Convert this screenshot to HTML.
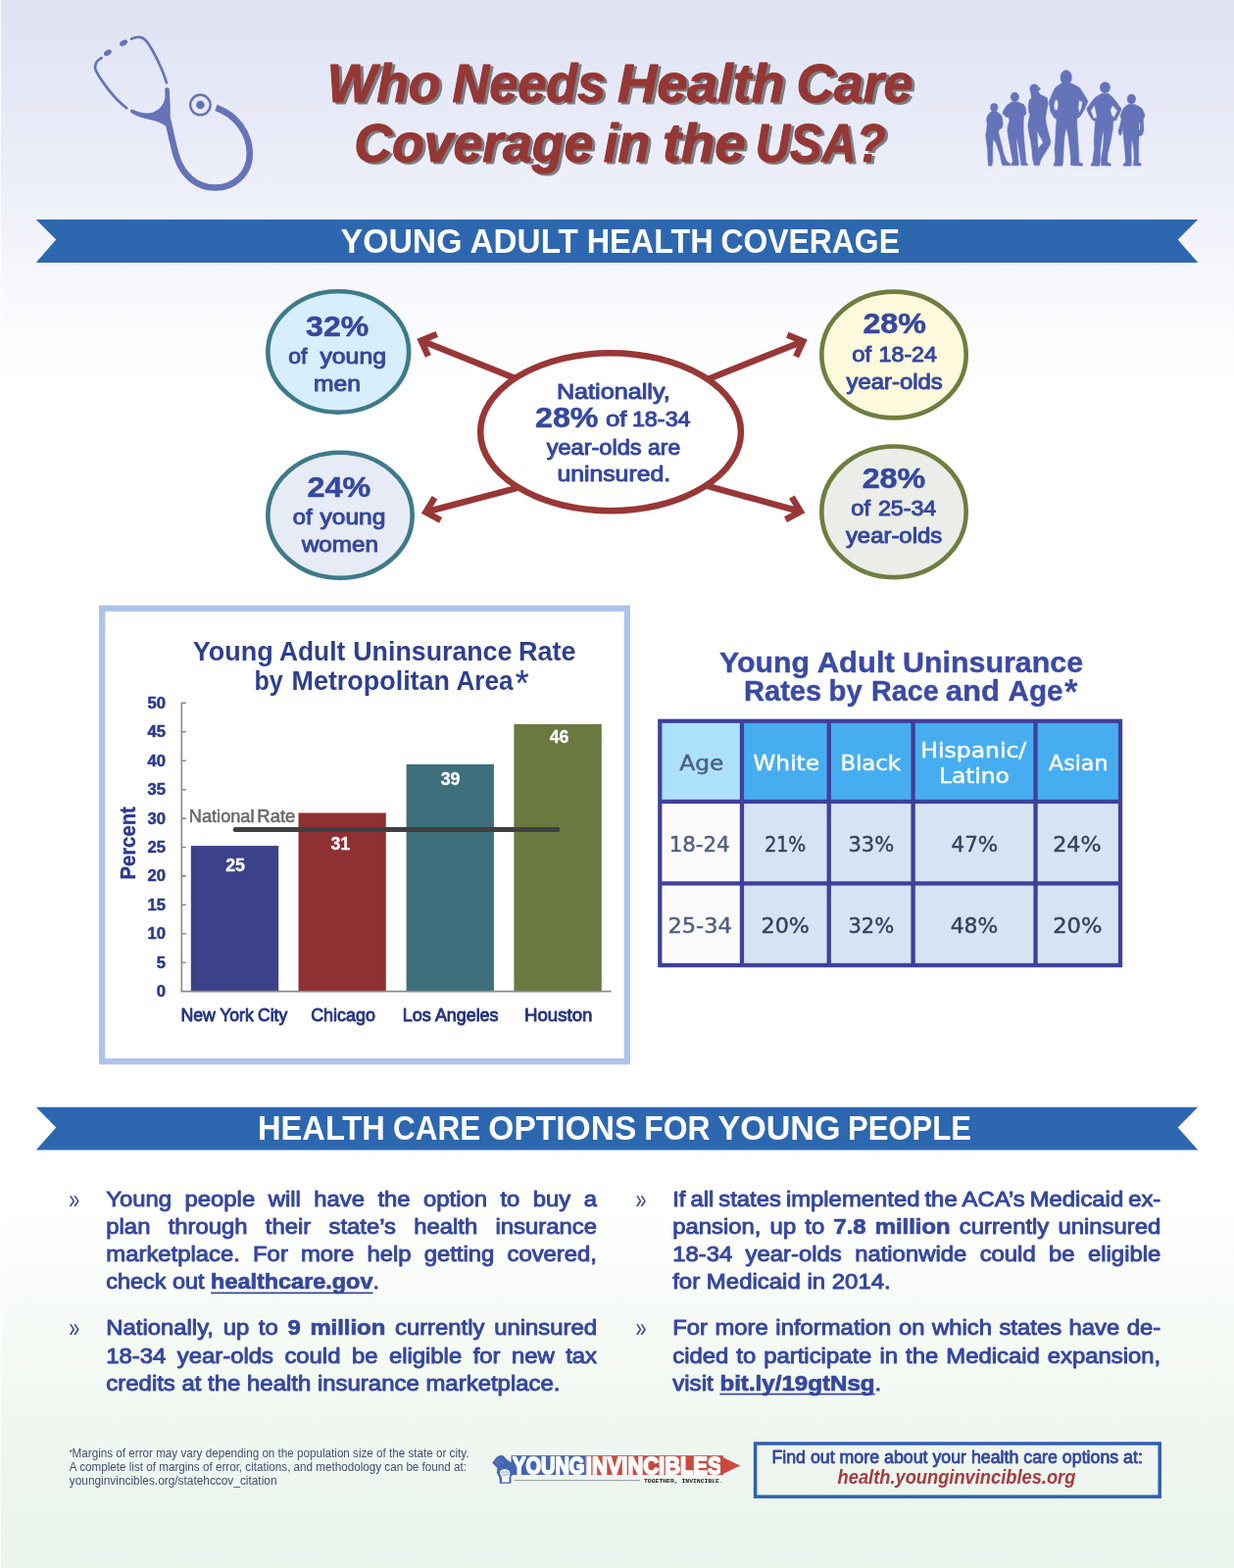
<!DOCTYPE html>
<html lang="en">
<head>
<meta charset="utf-8">
<title>Who Needs Health Care Coverage in the USA?</title>
<style>
html,body{margin:0;padding:0;}
body{width:1259px;height:1600px;overflow:hidden;position:relative;background:#fff;
font-family:'Liberation Sans', Arial, Helvetica, sans-serif;}
#bg{position:absolute;left:0;top:0;width:1259px;height:1600px;background:linear-gradient(to bottom,#dfe2f3 0px,#e5e8f6 90px,#edeff9 190px,#f6f7fc 280px,#fcfcfe 345px,#ffffff 390px,#ffffff 1235px,#f9fcf9 1300px,#f3f9f3 1400px,#eef6ef 1500px,#eaf4eb 1600px);}
#edge{position:absolute;left:0;top:0;width:1px;height:1600px;background:rgba(255,255,255,.75);}
svg#art{position:absolute;left:0;top:0;display:block;font-family:'Liberation Sans', Arial, Helvetica, sans-serif;}
svg#art text{white-space:pre;}

</style>
</head>
<body>
<div id="bg"></div><div id="edge"></div>
<svg id="art" width="1259" height="1600" viewBox="0 0 1259 1600">
<g transform="translate(80,20) scale(0.15886)" fill="none" stroke="#6573b9" stroke-linecap="round">
<path d="M884,566 C1010,612 1100,725 1100,862 C1100,990 1000,1080 880,1080 C765,1080 672,1005 632,885 C603,795 590,705 572,640" stroke-width="41" stroke-linecap="butt"/>
<path d="M556,445 Q570,428 584,445 L590,560 L590,650 L566,690 Q530,655 455,642 Q380,625 336,596 Q328,582 346,576 Q420,612 478,596 Q542,572 556,505 Z" fill="#6573b9" stroke="none"/>
<path d="M310,568 C232,510 150,400 114,332 C96,292 118,262 148,246" stroke-width="17"/>
<path d="M340,124 C382,105 412,106 440,142 C490,212 545,332 566,406" stroke-width="17"/>
<ellipse cx="188" cy="213" rx="27" ry="17" transform="rotate(-32 188 213)" fill="#6573b9" stroke="none"/>
<ellipse cx="290" cy="150" rx="27" ry="17" transform="rotate(-28 290 150)" fill="#6573b9" stroke="none"/>
<circle cx="783" cy="548" r="64.5" stroke-width="15"/>
<circle cx="783" cy="548" r="27" fill="#6573b9" stroke="none"/>
</g>
<g fill="#6573b9" stroke="#6573b9" stroke-linejoin="round"><g transform="translate(1000,65) scale(0.07943)" stroke-width="6"><ellipse cx="180" cy="562" rx="47" ry="52"/><path fill-rule="evenodd" d="M150,612 L100,658 L82,710 L90,790 L80,870 L70,920 L95,1100 L100,1250 L108,1312 L152,1312 L160,1250 L160,1100 L166,968 L200,1010 L250,1150 L280,1290 L290,1307 L382,1307 L392,1290 L340,1250 L300,1150 L265,1000 L240,900 L236,860 L282,820 L292,780 L286,700 L270,660 L210,612 Z"/><ellipse cx="445" cy="428" rx="53" ry="60"/><path fill-rule="evenodd" d="M408,490 L340,538 L300,600 L288,640 L330,682 L370,692 L376,740 L355,800 L350,870 L370,990 L400,1150 L420,1250 L400,1290 L394,1307 L490,1307 L496,1280 L486,1200 L470,1050 L466,940 L480,1000 L500,1100 L520,1250 L530,1307 L612,1307 L616,1295 L590,1270 L580,1150 L566,1000 L556,870 L556,760 L560,680 L592,640 L582,560 L560,524 L482,490 Z"/><ellipse cx="695" cy="322" rx="57" ry="58"/><path fill-rule="evenodd" d="M745,300 L775,318 L760,340 L740,345 Z"/><path fill-rule="evenodd" d="M648,350 L660,440 L630,470 L620,540 L625,620 L640,650 L625,720 L614,800 L625,880 L650,1000 L665,1100 L670,1200 L690,1290 L700,1307 L760,1307 L770,1260 L800,1200 L850,1120 L900,1040 L906,1000 L880,900 L850,780 L840,700 L850,620 L872,520 L862,440 L820,420 L770,395 L750,360 Z M730,860 L810,1010 L745,1092 L735,950 Z"/></g><g transform="translate(1065,65) scale(0.08737)" stroke-width="6"><ellipse cx="260" cy="162" rx="66" ry="86"/><path fill-rule="evenodd" d="M205,228 L130,283 L90,370 L60,450 L80,560 L120,630 L150,650 L140,760 L135,900 L125,1000 L135,1100 L130,1150 L114,1176 L120,1192 L215,1192 L225,1150 L230,1000 L240,850 L262,744 L285,850 L305,1000 L315,1100 L315,1188 L450,1192 L456,1170 L410,1150 L405,1000 L395,850 L386,700 L386,640 L420,620 L470,540 L517,440 L470,360 L420,284 L390,264 L315,228 Z M130,430 L160,418 L170,480 L160,540 L130,546 L114,490 Z M410,424 L452,450 L440,520 L415,576 L400,520 Z"/><ellipse cx="715" cy="278" rx="59" ry="64"/><path fill-rule="evenodd" d="M676,350 L600,394 L560,440 L498,530 L530,600 L570,660 L600,670 L595,760 L585,900 L590,1000 L575,1100 L570,1150 L549,1176 L555,1192 L650,1192 L655,1150 L660,1000 L680,850 L695,778 L700,850 L690,1000 L670,1100 L670,1188 L780,1192 L781,1170 L740,1150 L745,1050 L780,900 L805,760 L810,670 L840,660 L880,590 L907,530 L850,450 L810,400 L754,350 Z M590,480 L610,560 L620,630 L580,640 L547,550 Z M800,484 L861,550 L820,630 L790,600 L775,540 Z"/><ellipse cx="1023" cy="413" rx="49" ry="56"/><path fill-rule="evenodd" d="M988,474 L940,508 L915,550 L894,610 L905,650 L890,720 L869,790 L880,832 L900,836 L920,760 L930,840 L940,950 L950,1050 L955,1150 L929,1170 L930,1192 L1020,1192 L1022,1150 L1020,1000 L1025,880 L1035,900 L1050,1000 L1055,1100 L1045,1188 L1130,1192 L1136,1170 L1105,1150 L1105,1000 L1110,850 L1150,830 L1166,780 L1160,650 L1180,605 L1150,530 L1120,504 L1058,474 Z M1110,680 L1126,700 L1126,770 L1110,780 Z"/></g></g>
<defs><filter id="tshadow" x="-5%" y="-20%" width="110%" height="150%" color-interpolation-filters="sRGB"><feOffset in="SourceAlpha" dx="2.6" dy="2.2" result="o"/><feFlood flood-color="#7c7c80" result="c"/><feComposite in="c" in2="o" operator="in" result="s"/><feMerge><feMergeNode in="s"/><feMergeNode in="SourceGraphic"/></feMerge></filter></defs>
<text y="103.5" font-size="54.64" fill="#943735" font-weight="bold" font-style="italic" stroke="#943735" stroke-width="1.1" stroke-linejoin="round" filter="url(#tshadow)"><tspan x="333.7" textLength="115.8" lengthAdjust="spacingAndGlyphs">Who</tspan> <tspan x="461.5" textLength="156.6" lengthAdjust="spacingAndGlyphs">Needs</tspan> <tspan x="629.9" textLength="170.6" lengthAdjust="spacingAndGlyphs">Health</tspan> <tspan x="812.5" textLength="118.8" lengthAdjust="spacingAndGlyphs">Care</tspan></text>
<text y="164.6" font-size="54.64" fill="#943735" font-weight="bold" font-style="italic" stroke="#943735" stroke-width="1.1" stroke-linejoin="round" filter="url(#tshadow)"><tspan x="361.2" textLength="244.2" lengthAdjust="spacingAndGlyphs">Coverage</tspan> <tspan x="615.8" textLength="47.4" lengthAdjust="spacingAndGlyphs">in</tspan> <tspan x="676.0" textLength="84.7" lengthAdjust="spacingAndGlyphs">the</tspan> <tspan x="770.8" textLength="132.9" lengthAdjust="spacingAndGlyphs">USA?</tspan></text>
<polygon points="36.8,224.0 1222.2,224.0 1201.7,244.6 1222.2,268.0 36.8,268.0 57.2,244.6" fill="#2d67af"/>
<text y="257.7" font-size="34.78" fill="#ffffff" font-weight="bold"><tspan x="347.6" textLength="124.0" lengthAdjust="spacingAndGlyphs">YOUNG</tspan> <tspan x="479.6" textLength="110.2" lengthAdjust="spacingAndGlyphs">ADULT</tspan> <tspan x="598.7" textLength="129.1" lengthAdjust="spacingAndGlyphs">HEALTH</tspan> <tspan x="735.5" textLength="182.4" lengthAdjust="spacingAndGlyphs">COVERAGE</tspan></text>
<path d="M529.3,387.4 L429.7,347.6 M436.9,363.3 L429.7,347.6 L445.8,341.1" fill="none" stroke="#983736" stroke-width="6.5" stroke-linejoin="miter" stroke-miterlimit="10" stroke-linecap="butt"/>
<path d="M536.2,495.6 L434.4,522.5 M449.6,530.8 L434.4,522.5 L443.5,507.7" fill="none" stroke="#983736" stroke-width="6.5" stroke-linejoin="miter" stroke-miterlimit="10" stroke-linecap="butt"/>
<path d="M719.7,388.0 L819.3,348.2 M803.2,341.7 L819.3,348.2 L812.1,363.9" fill="none" stroke="#983736" stroke-width="6.5" stroke-linejoin="miter" stroke-miterlimit="10" stroke-linecap="butt"/>
<path d="M715.3,494.2 L816.8,522.0 M807.8,507.1 L816.8,522.0 L801.5,530.2" fill="none" stroke="#983736" stroke-width="6.5" stroke-linejoin="miter" stroke-miterlimit="10" stroke-linecap="butt"/>
<ellipse cx="623.05" cy="440.65" rx="132.9" ry="80.5" fill="#ffffff" stroke="#983736" stroke-width="6.5"/>
<ellipse cx="345.2" cy="359.0" rx="71.9" ry="61.7" fill="#d7eefc" stroke="#3f7a8a" stroke-width="4.6"/>
<ellipse cx="347.0" cy="525.7" rx="73.7" ry="64.0" fill="#e6ebf6" stroke="#3f7a8a" stroke-width="4.6"/>
<ellipse cx="912.0" cy="362.0" rx="73.7" ry="64.4" fill="#fdf9dd" stroke="#6f7e40" stroke-width="4.6"/>
<ellipse cx="912.0" cy="522.3" rx="73.7" ry="66.8" fill="#eaede8" stroke="#6f7e40" stroke-width="4.6"/>
<text x="312.1" y="343.1" font-size="28.99" fill="#36479e" font-weight="bold" textLength="64.1" lengthAdjust="spacingAndGlyphs" stroke="#36479e" stroke-width="0.5" stroke-linejoin="round">32%</text>
<text y="370.9" font-size="22.61" fill="#36479e" stroke="#36479e" stroke-width="1.0" stroke-linejoin="round"><tspan x="294.2" textLength="19.2" lengthAdjust="spacingAndGlyphs">of</tspan> <tspan x="326.5" textLength="67.4" lengthAdjust="spacingAndGlyphs">young</tspan></text>
<text y="399.1" font-size="22.61" fill="#36479e" stroke="#36479e" stroke-width="1.0" stroke-linejoin="round"><tspan x="320.0" textLength="47.9" lengthAdjust="spacingAndGlyphs">men</tspan></text>
<text x="313.6" y="506.8" font-size="28.99" fill="#36479e" font-weight="bold" textLength="64.6" lengthAdjust="spacingAndGlyphs" stroke="#36479e" stroke-width="0.5" stroke-linejoin="round">24%</text>
<text y="534.5" font-size="22.61" fill="#36479e" stroke="#36479e" stroke-width="1.0" stroke-linejoin="round"><tspan x="298.8" textLength="19.7" lengthAdjust="spacingAndGlyphs">of</tspan> <tspan x="326.5" textLength="66.8" lengthAdjust="spacingAndGlyphs">young</tspan></text>
<text y="562.9" font-size="22.61" fill="#36479e" stroke="#36479e" stroke-width="1.0" stroke-linejoin="round"><tspan x="307.9" textLength="78.0" lengthAdjust="spacingAndGlyphs">women</tspan></text>
<text x="880.4" y="340.1" font-size="28.99" fill="#36479e" font-weight="bold" textLength="64.5" lengthAdjust="spacingAndGlyphs" stroke="#36479e" stroke-width="0.5" stroke-linejoin="round">28%</text>
<text y="368.5" font-size="22.61" fill="#36479e" stroke="#36479e" stroke-width="1.0" stroke-linejoin="round"><tspan x="869.2" textLength="19.8" lengthAdjust="spacingAndGlyphs">of</tspan> <tspan x="896.6" textLength="59.3" lengthAdjust="spacingAndGlyphs">18-24</tspan></text>
<text y="396.5" font-size="22.61" fill="#36479e" stroke="#36479e" stroke-width="1.0" stroke-linejoin="round"><tspan x="863.5" textLength="98.2" lengthAdjust="spacingAndGlyphs">year-olds</tspan></text>
<text x="879.7" y="498.4" font-size="28.99" fill="#36479e" font-weight="bold" textLength="64.5" lengthAdjust="spacingAndGlyphs" stroke="#36479e" stroke-width="0.5" stroke-linejoin="round">28%</text>
<text y="526.4" font-size="22.61" fill="#36479e" stroke="#36479e" stroke-width="1.0" stroke-linejoin="round"><tspan x="868.2" textLength="19.8" lengthAdjust="spacingAndGlyphs">of</tspan> <tspan x="895.9" textLength="59.4" lengthAdjust="spacingAndGlyphs">25-34</tspan></text>
<text y="554.3" font-size="22.61" fill="#36479e" stroke="#36479e" stroke-width="1.0" stroke-linejoin="round"><tspan x="862.9" textLength="98.3" lengthAdjust="spacingAndGlyphs">year-olds</tspan></text>
<text y="406.6" font-size="22.61" fill="#36479e" stroke="#36479e" stroke-width="1.0" stroke-linejoin="round"><tspan x="567.9" textLength="115.8" lengthAdjust="spacingAndGlyphs">Nationally,</tspan></text>
<text x="546.0" y="435.6" font-size="28.99" fill="#36479e" font-weight="bold" textLength="64.4" lengthAdjust="spacingAndGlyphs" stroke="#36479e" stroke-width="0.5" stroke-linejoin="round">28%</text>
<text y="435.4" font-size="22.61" fill="#36479e" stroke="#36479e" stroke-width="1.0" stroke-linejoin="round"><tspan x="617.9" textLength="21.6" lengthAdjust="spacingAndGlyphs">of</tspan> <tspan x="644.9" textLength="59.7" lengthAdjust="spacingAndGlyphs">18-34</tspan></text>
<text y="463.5" font-size="22.61" fill="#36479e" stroke="#36479e" stroke-width="1.0" stroke-linejoin="round"><tspan x="557.7" textLength="96.9" lengthAdjust="spacingAndGlyphs">year-olds</tspan> <tspan x="661.1" textLength="33.1" lengthAdjust="spacingAndGlyphs">are</tspan></text>
<text y="491.2" font-size="22.61" fill="#36479e" stroke="#36479e" stroke-width="1.0" stroke-linejoin="round"><tspan x="568.4" textLength="115.7" lengthAdjust="spacingAndGlyphs">uninsured.</tspan></text>
<rect x="104.15" y="620.75" width="535.7" height="462.4" fill="#ffffff" stroke="#adc3ea" stroke-width="6.3"/>
<text y="673.9" font-size="27.1" fill="#2f3f8e" font-weight="bold"><tspan x="196.8" textLength="81.9" lengthAdjust="spacingAndGlyphs">Young</tspan> <tspan x="285.0" textLength="67.2" lengthAdjust="spacingAndGlyphs">Adult</tspan> <tspan x="360.3" textLength="162.1" lengthAdjust="spacingAndGlyphs">Uninsurance</tspan> <tspan x="529.1" textLength="58.4" lengthAdjust="spacingAndGlyphs">Rate</tspan></text>
<text y="704.1" font-size="27.1" fill="#2f3f8e" font-weight="bold"><tspan x="259.5" textLength="29.3" lengthAdjust="spacingAndGlyphs">by</tspan> <tspan x="297.5" textLength="161.5" lengthAdjust="spacingAndGlyphs">Metropolitan</tspan> <tspan x="465.4" textLength="58.1" lengthAdjust="spacingAndGlyphs">Area</tspan></text>
<text x="525.7" y="709.5" font-size="37.8" fill="#2f3f8e" textLength="13.9" lengthAdjust="spacingAndGlyphs" stroke="#2f3f8e" stroke-width="0.3" stroke-linejoin="round">*</text>
<rect x="194.8" y="863.1" width="89.4" height="148.5" fill="#3c4289"/>
<rect x="304.5" y="829.5" width="89.3" height="182.1" fill="#8f3033"/>
<rect x="414.6" y="779.9" width="89.3" height="231.7" fill="#3d6f7d"/>
<rect x="524.4" y="738.9" width="89.4" height="272.7" fill="#69793f"/>
<path d="M185.3,716.6 V1011.6 H623.6 M185.3,1011.6 h4.5 M185.3,982.2 h4.5 M185.3,952.8 h4.5 M185.3,923.3 h4.5 M185.3,893.9 h4.5 M185.3,864.5 h4.5 M185.3,835.1 h4.5 M185.3,805.7 h4.5 M185.3,776.2 h4.5 M185.3,746.8 h4.5 M185.3,717.4 h4.5" fill="none" stroke="#8a8a8a" stroke-width="1.6"/>
<text x="168.9" y="1017.0" font-size="16.6" fill="#2b3a8c" font-weight="bold" text-anchor="end" stroke="#2b3a8c" stroke-width="0.5" stroke-linejoin="round">0</text>
<text x="168.9" y="987.6" font-size="16.6" fill="#2b3a8c" font-weight="bold" text-anchor="end" stroke="#2b3a8c" stroke-width="0.5" stroke-linejoin="round">5</text>
<text x="168.9" y="958.2" font-size="16.6" fill="#2b3a8c" font-weight="bold" text-anchor="end" stroke="#2b3a8c" stroke-width="0.5" stroke-linejoin="round">10</text>
<text x="168.9" y="928.7" font-size="16.6" fill="#2b3a8c" font-weight="bold" text-anchor="end" stroke="#2b3a8c" stroke-width="0.5" stroke-linejoin="round">15</text>
<text x="168.9" y="899.3" font-size="16.6" fill="#2b3a8c" font-weight="bold" text-anchor="end" stroke="#2b3a8c" stroke-width="0.5" stroke-linejoin="round">20</text>
<text x="168.9" y="869.9" font-size="16.6" fill="#2b3a8c" font-weight="bold" text-anchor="end" stroke="#2b3a8c" stroke-width="0.5" stroke-linejoin="round">25</text>
<text x="168.9" y="840.5" font-size="16.6" fill="#2b3a8c" font-weight="bold" text-anchor="end" stroke="#2b3a8c" stroke-width="0.5" stroke-linejoin="round">30</text>
<text x="168.9" y="811.1" font-size="16.6" fill="#2b3a8c" font-weight="bold" text-anchor="end" stroke="#2b3a8c" stroke-width="0.5" stroke-linejoin="round">35</text>
<text x="168.9" y="781.6" font-size="16.6" fill="#2b3a8c" font-weight="bold" text-anchor="end" stroke="#2b3a8c" stroke-width="0.5" stroke-linejoin="round">40</text>
<text x="168.9" y="752.2" font-size="16.6" fill="#2b3a8c" font-weight="bold" text-anchor="end" stroke="#2b3a8c" stroke-width="0.5" stroke-linejoin="round">45</text>
<text x="168.9" y="722.8" font-size="16.6" fill="#2b3a8c" font-weight="bold" text-anchor="end" stroke="#2b3a8c" stroke-width="0.5" stroke-linejoin="round">50</text>
<text transform="translate(137.5,896.5) rotate(-90)" x="-1.1" font-size="21.6" font-weight="bold" fill="#2b3a8c" stroke="#2b3a8c" stroke-width="0.4" textLength="74.4" lengthAdjust="spacingAndGlyphs">Percent</text>
<text y="838.5" font-size="17.9" fill="#6a6a6a" stroke="#6a6a6a" stroke-width="0.55" stroke-linejoin="round"><tspan x="192.8" textLength="66.7" lengthAdjust="spacingAndGlyphs">National</tspan> <tspan x="262.3" textLength="39.0" lengthAdjust="spacingAndGlyphs">Rate</tspan></text>
<line x1="240.2" y1="846.5" x2="568.8" y2="846.5" stroke="#404041" stroke-width="5" stroke-linecap="round"/>
<text x="240.1" y="889.4" font-size="17.8" fill="#ffffff" font-weight="bold" text-anchor="middle" stroke="#ffffff" stroke-width="0.3" stroke-linejoin="round">25</text>
<text x="347.3" y="867.2" font-size="17.8" fill="#ffffff" font-weight="bold" text-anchor="middle" stroke="#ffffff" stroke-width="0.3" stroke-linejoin="round">31</text>
<text x="459.6" y="801.3" font-size="17.8" fill="#ffffff" font-weight="bold" text-anchor="middle" stroke="#ffffff" stroke-width="0.3" stroke-linejoin="round">39</text>
<text x="570.6" y="758.2" font-size="17.8" fill="#ffffff" font-weight="bold" text-anchor="middle" stroke="#ffffff" stroke-width="0.3" stroke-linejoin="round">46</text>
<text y="1041.5" font-size="18.99" fill="#25347f" stroke="#25347f" stroke-width="0.9" stroke-linejoin="round"><tspan x="184.4" textLength="35.5" lengthAdjust="spacingAndGlyphs">New</tspan> <tspan x="224.2" textLength="34.6" lengthAdjust="spacingAndGlyphs">York</tspan> <tspan x="263.1" textLength="30.1" lengthAdjust="spacingAndGlyphs">City</tspan></text>
<text y="1041.5" font-size="18.99" fill="#25347f" stroke="#25347f" stroke-width="0.9" stroke-linejoin="round"><tspan x="317.2" textLength="65.7" lengthAdjust="spacingAndGlyphs">Chicago</tspan></text>
<text y="1041.5" font-size="18.99" fill="#25347f" stroke="#25347f" stroke-width="0.9" stroke-linejoin="round"><tspan x="410.8" textLength="29.1" lengthAdjust="spacingAndGlyphs">Los</tspan> <tspan x="443.9" textLength="64.6" lengthAdjust="spacingAndGlyphs">Angeles</tspan></text>
<text y="1041.5" font-size="18.99" fill="#25347f" stroke="#25347f" stroke-width="0.9" stroke-linejoin="round"><tspan x="535.0" textLength="69.4" lengthAdjust="spacingAndGlyphs">Houston</tspan></text>
<text y="686.3" font-size="29.42" fill="#3b4aa3" font-weight="bold" stroke="#3b4aa3" stroke-width="0.4" stroke-linejoin="round"><tspan x="734.0" textLength="91.9" lengthAdjust="spacingAndGlyphs">Young</tspan> <tspan x="833.7" textLength="79.2" lengthAdjust="spacingAndGlyphs">Adult</tspan> <tspan x="921.1" textLength="184.0" lengthAdjust="spacingAndGlyphs">Uninsurance</tspan></text>
<text y="714.9" font-size="29.42" fill="#3b4aa3" font-weight="bold" stroke="#3b4aa3" stroke-width="0.4" stroke-linejoin="round"><tspan x="759.0" textLength="79.2" lengthAdjust="spacingAndGlyphs">Rates</tspan> <tspan x="845.6" textLength="34.1" lengthAdjust="spacingAndGlyphs">by</tspan> <tspan x="889.1" textLength="68.7" lengthAdjust="spacingAndGlyphs">Race</tspan> <tspan x="964.7" textLength="55.3" lengthAdjust="spacingAndGlyphs">and</tspan> <tspan x="1028.5" textLength="56.0" lengthAdjust="spacingAndGlyphs">Age</tspan></text>
<text x="1086.0" y="719.2" font-size="37.6" fill="#3b4aa3" font-weight="bold" textLength="13.5" lengthAdjust="spacingAndGlyphs">*</text>
<rect x="671.15" y="733.65" width="474.00000000000006" height="253.50000000000006" fill="#40409a"/>
<rect x="675.4" y="737.9" width="79.4" height="77.9" fill="#abe1fa"/>
<rect x="759.1" y="737.9" width="84.5" height="77.9" fill="#46aef0"/>
<rect x="847.9" y="737.9" width="81.5" height="77.9" fill="#46aef0"/>
<rect x="933.8" y="737.9" width="120.6" height="77.9" fill="#46aef0"/>
<rect x="1058.7" y="737.9" width="82.2" height="77.9" fill="#46aef0"/>
<rect x="675.4" y="820.1" width="79.4" height="79.2" fill="#fbfbfc"/>
<rect x="759.1" y="820.1" width="84.5" height="79.2" fill="#d7e2f3"/>
<rect x="847.9" y="820.1" width="81.5" height="79.2" fill="#d7e2f3"/>
<rect x="933.8" y="820.1" width="120.6" height="79.2" fill="#d7e2f3"/>
<rect x="1058.7" y="820.1" width="82.2" height="79.2" fill="#d7e2f3"/>
<rect x="675.4" y="903.6" width="79.4" height="79.2" fill="#fbfbfc"/>
<rect x="759.1" y="903.6" width="84.5" height="79.2" fill="#d7e2f3"/>
<rect x="847.9" y="903.6" width="81.5" height="79.2" fill="#d7e2f3"/>
<rect x="933.8" y="903.6" width="120.6" height="79.2" fill="#d7e2f3"/>
<rect x="1058.7" y="903.6" width="82.2" height="79.2" fill="#d7e2f3"/>
<text x="693.2" y="786.1" font-size="21.58" fill="#4d5f82" textLength="45.2" lengthAdjust="spacingAndGlyphs" stroke="#4d5f82" stroke-width="0.45" stroke-linejoin="round" font-family="'DejaVu Sans', 'Liberation Sans', sans-serif">Age</text>
<text x="768.3" y="786.1" font-size="21.58" fill="#ffffff" textLength="67.8" lengthAdjust="spacingAndGlyphs" stroke="#ffffff" stroke-width="0.45" stroke-linejoin="round" font-family="'DejaVu Sans', 'Liberation Sans', sans-serif">White</text>
<text x="857.4" y="786.1" font-size="21.58" fill="#ffffff" textLength="61.6" lengthAdjust="spacingAndGlyphs" stroke="#ffffff" stroke-width="0.45" stroke-linejoin="round" font-family="'DejaVu Sans', 'Liberation Sans', sans-serif">Black</text>
<text x="939.3" y="772.7" font-size="21.58" fill="#ffffff" textLength="108.0" lengthAdjust="spacingAndGlyphs" stroke="#ffffff" stroke-width="0.45" stroke-linejoin="round" font-family="'DejaVu Sans', 'Liberation Sans', sans-serif">Hispanic/</text>
<text x="957.9" y="798.9" font-size="21.58" fill="#ffffff" textLength="72.0" lengthAdjust="spacingAndGlyphs" stroke="#ffffff" stroke-width="0.45" stroke-linejoin="round" font-family="'DejaVu Sans', 'Liberation Sans', sans-serif">Latino</text>
<text x="1070.0" y="786.1" font-size="21.58" fill="#ffffff" textLength="60.5" lengthAdjust="spacingAndGlyphs" stroke="#ffffff" stroke-width="0.45" stroke-linejoin="round" font-family="'DejaVu Sans', 'Liberation Sans', sans-serif">Asian</text>
<text x="682.7" y="869.1" font-size="21.58" fill="#4f5f82" textLength="62.0" lengthAdjust="spacingAndGlyphs" stroke="#4f5f82" stroke-width="0.45" stroke-linejoin="round" font-family="'DejaVu Sans', 'Liberation Sans', sans-serif">18-24</text>
<text x="780.2" y="869.1" font-size="21.58" fill="#36425f" textLength="42.1" lengthAdjust="spacingAndGlyphs" stroke="#36425f" stroke-width="0.45" stroke-linejoin="round" font-family="'DejaVu Sans', 'Liberation Sans', sans-serif">21%</text>
<text x="865.4" y="869.1" font-size="21.58" fill="#36425f" textLength="46.8" lengthAdjust="spacingAndGlyphs" stroke="#36425f" stroke-width="0.45" stroke-linejoin="round" font-family="'DejaVu Sans', 'Liberation Sans', sans-serif">33%</text>
<text x="970.5" y="869.1" font-size="21.58" fill="#36425f" textLength="47.8" lengthAdjust="spacingAndGlyphs" stroke="#36425f" stroke-width="0.45" stroke-linejoin="round" font-family="'DejaVu Sans', 'Liberation Sans', sans-serif">47%</text>
<text x="1074.2" y="869.1" font-size="21.58" fill="#36425f" textLength="49.4" lengthAdjust="spacingAndGlyphs" stroke="#36425f" stroke-width="0.45" stroke-linejoin="round" font-family="'DejaVu Sans', 'Liberation Sans', sans-serif">24%</text>
<text x="681.5" y="952.3" font-size="21.58" fill="#4f5f82" textLength="65.3" lengthAdjust="spacingAndGlyphs" stroke="#4f5f82" stroke-width="0.45" stroke-linejoin="round" font-family="'DejaVu Sans', 'Liberation Sans', sans-serif">25-34</text>
<text x="776.5" y="952.3" font-size="21.58" fill="#36425f" textLength="49.4" lengthAdjust="spacingAndGlyphs" stroke="#36425f" stroke-width="0.45" stroke-linejoin="round" font-family="'DejaVu Sans', 'Liberation Sans', sans-serif">20%</text>
<text x="865.4" y="952.3" font-size="21.58" fill="#36425f" textLength="46.8" lengthAdjust="spacingAndGlyphs" stroke="#36425f" stroke-width="0.45" stroke-linejoin="round" font-family="'DejaVu Sans', 'Liberation Sans', sans-serif">32%</text>
<text x="969.7" y="952.3" font-size="21.58" fill="#36425f" textLength="48.6" lengthAdjust="spacingAndGlyphs" stroke="#36425f" stroke-width="0.45" stroke-linejoin="round" font-family="'DejaVu Sans', 'Liberation Sans', sans-serif">48%</text>
<text x="1074.2" y="952.3" font-size="21.58" fill="#36425f" textLength="50.3" lengthAdjust="spacingAndGlyphs" stroke="#36425f" stroke-width="0.45" stroke-linejoin="round" font-family="'DejaVu Sans', 'Liberation Sans', sans-serif">20%</text>
<polygon points="36.8,1129.8 1222.2,1129.8 1201.7,1150.3999999999999 1222.2,1173.6 36.8,1173.6 57.2,1150.3999999999999" fill="#2d67af"/>
<text y="1163.1" font-size="34.78" fill="#ffffff" font-weight="bold"><tspan x="263.1" textLength="129.7" lengthAdjust="spacingAndGlyphs">HEALTH</tspan> <tspan x="401.1" textLength="89.3" lengthAdjust="spacingAndGlyphs">CARE</tspan> <tspan x="498.3" textLength="151.0" lengthAdjust="spacingAndGlyphs">OPTIONS</tspan> <tspan x="657.3" textLength="67.2" lengthAdjust="spacingAndGlyphs">FOR</tspan> <tspan x="732.4" textLength="125.1" lengthAdjust="spacingAndGlyphs">YOUNG</tspan> <tspan x="865.0" textLength="126.0" lengthAdjust="spacingAndGlyphs">PEOPLE</tspan></text>
<text x="70.2" y="1232.6" font-size="27.7" fill="#36479e" textLength="11.0" lengthAdjust="spacingAndGlyphs">»</text>
<text transform="translate(108.3,1231.2) scale(1.0428,1)" font-size="22.9" fill="#36479e" stroke="#36479e" stroke-width="0.95" stroke-linejoin="round"><tspan x="0.00">Young </tspan><tspan x="76.96">people </tspan><tspan x="158.58">will </tspan><tspan x="203.24">have </tspan><tspan x="265.75">the </tspan><tspan x="310.45">option </tspan><tspan x="385.69">to </tspan><tspan x="417.66">buy </tspan><tspan x="467.44">a</tspan></text>
<text transform="translate(108.3,1259.1) scale(1.0428,1)" font-size="22.9" fill="#36479e" stroke="#36479e" stroke-width="0.95" stroke-linejoin="round"><tspan x="0.00">plan </tspan><tspan x="60.75">through </tspan><tspan x="155.86">their </tspan><tspan x="217.86">state’s </tspan><tspan x="301.08">health </tspan><tspan x="380.92">insurance</tspan></text>
<text transform="translate(108.3,1287.1) scale(1.0428,1)" font-size="22.9" fill="#36479e" stroke="#36479e" stroke-width="0.95" stroke-linejoin="round"><tspan x="0.00">marketplace. </tspan><tspan x="143.61">For </tspan><tspan x="190.51">more </tspan><tspan x="255.23">help </tspan><tspan x="311.08">getting </tspan><tspan x="392.37">covered,</tspan></text>
<text transform="translate(108.3,1315.4) scale(1.0236,1)" font-size="22.9" fill="#36479e" stroke="#36479e" stroke-width="0.95" stroke-linejoin="round"><tspan x="0.00">check </tspan><tspan x="66.16">out </tspan><tspan x="104.34" font-weight="bold" stroke-width="0.7">healthcare.gov</tspan><tspan>.</tspan></text>
<rect x="215.1" y="1318.5" width="165.4" height="1.7" fill="#36479e"/>
<text x="70.2" y="1363.8" font-size="27.7" fill="#36479e" textLength="11.0" lengthAdjust="spacingAndGlyphs">»</text>
<text transform="translate(108.3,1362.4) scale(1.0428,1)" font-size="22.9" fill="#36479e" stroke="#36479e" stroke-width="0.95" stroke-linejoin="round"><tspan x="0.00">Nationally, </tspan><tspan x="114.45">up </tspan><tspan x="149.18">to </tspan><tspan x="177.55" font-weight="bold" stroke-width="0.7">9 </tspan><tspan x="199.55" font-weight="bold" stroke-width="0.7">million </tspan><tspan x="282.58">currently </tspan><tspan x="379.63">uninsured</tspan></text>
<text transform="translate(108.3,1390.7) scale(1.0428,1)" font-size="22.9" fill="#36479e" stroke="#36479e" stroke-width="0.95" stroke-linejoin="round"><tspan x="0.00">18-34 </tspan><tspan x="69.52">year-olds </tspan><tspan x="174.63">could </tspan><tspan x="240.32">be </tspan><tspan x="276.75">eligible </tspan><tspan x="358.99">for </tspan><tspan x="396.67">new </tspan><tspan x="449.63">tax</tspan></text>
<text transform="translate(108.3,1418.6) scale(1.0461,1)" font-size="22.9" fill="#36479e" stroke="#36479e" stroke-width="0.95" stroke-linejoin="round"><tspan x="0.00">credits </tspan><tspan x="73.78">at </tspan><tspan x="99.23">the </tspan><tspan x="137.41">health </tspan><tspan x="206.14">insurance </tspan><tspan x="311.75">marketplace.</tspan></text>
<text x="648.4" y="1232.6" font-size="27.7" fill="#36479e" textLength="11.0" lengthAdjust="spacingAndGlyphs">»</text>
<text transform="translate(686.2,1231.2) scale(1.0428,1)" font-size="22.9" fill="#36479e" stroke="#36479e" stroke-width="0.95" stroke-linejoin="round"><tspan x="0.00">If </tspan><tspan x="17.47">all </tspan><tspan x="45.11">states </tspan><tspan x="110.93">implemented </tspan><tspan x="246.73">the </tspan><tspan x="283.29">ACA’s </tspan><tspan x="349.52">Medicaid </tspan><tspan x="445.88">ex-</tspan></text>
<text transform="translate(686.2,1259.1) scale(1.0428,1)" font-size="22.9" fill="#36479e" stroke="#36479e" stroke-width="0.95" stroke-linejoin="round"><tspan x="0.00">pansion, </tspan><tspan x="95.33">up </tspan><tspan x="129.57">to </tspan><tspan x="157.44" font-weight="bold" stroke-width="0.7">7.8 </tspan><tspan x="198.04" font-weight="bold" stroke-width="0.7">million </tspan><tspan x="280.58">currently </tspan><tspan x="377.14">uninsured</tspan></text>
<text transform="translate(686.2,1287.1) scale(1.0428,1)" font-size="22.9" fill="#36479e" stroke="#36479e" stroke-width="0.95" stroke-linejoin="round"><tspan x="0.00">18-34 </tspan><tspan x="71.36">year-olds </tspan><tspan x="178.33">nationwide </tspan><tspan x="300.59">could </tspan><tspan x="368.13">be </tspan><tspan x="406.41">eligible</tspan></text>
<text transform="translate(686.2,1315.4) scale(1.0475,1)" font-size="22.9" fill="#36479e" stroke="#36479e" stroke-width="0.95" stroke-linejoin="round"><tspan x="0.00">for </tspan><tspan x="33.07">Medicaid </tspan><tspan x="131.04">in </tspan><tspan x="155.22">2014.</tspan></text>
<text x="648.4" y="1363.8" font-size="27.7" fill="#36479e" textLength="11.0" lengthAdjust="spacingAndGlyphs">»</text>
<text transform="translate(686.2,1362.4) scale(1.0428,1)" font-size="22.9" fill="#36479e" stroke="#36479e" stroke-width="0.95" stroke-linejoin="round"><tspan x="0.00">For </tspan><tspan x="41.50">more </tspan><tspan x="100.82">information </tspan><tspan x="221.23">on </tspan><tspan x="253.86">which </tspan><tspan x="319.55">states </tspan><tspan x="387.79">have </tspan><tspan x="444.59">de-</tspan></text>
<text transform="translate(686.2,1390.7) scale(1.0428,1)" font-size="22.9" fill="#36479e" stroke="#36479e" stroke-width="0.95" stroke-linejoin="round"><tspan x="0.00">cided </tspan><tspan x="62.44">to </tspan><tspan x="89.24">participate </tspan><tspan x="202.57">in </tspan><tspan x="228.10">the </tspan><tspan x="267.63">Medicaid </tspan><tspan x="366.95">expansion,</tspan></text>
<text transform="translate(686.2,1418.6) scale(1.0538,1)" font-size="22.9" fill="#36479e" stroke="#36479e" stroke-width="0.95" stroke-linejoin="round"><tspan x="0.00">visit </tspan><tspan x="45.78" font-weight="bold" stroke-width="0.7">bit.ly/19gtNsg</tspan><tspan>.</tspan></text>
<rect x="734.4" y="1421.7" width="158.2" height="1.7" fill="#36479e"/>
<text x="70.6" y="1484.6" font-size="9" fill="#454f74">*</text>
<text x="73.6" y="1486.8" font-size="12.3" fill="#454f74" textLength="404.9" lengthAdjust="spacingAndGlyphs">Margins of error may vary depending on the population size of the state or city.</text>
<text x="70.8" y="1501.1" font-size="12.3" fill="#454f74" textLength="405.2" lengthAdjust="spacingAndGlyphs">A complete list of margins of error, citations, and methodology can be found at:</text>
<text x="70.8" y="1515.1" font-size="12.3" fill="#454f74" textLength="211.7" lengthAdjust="spacingAndGlyphs">younginvincibles.org/statehccov_citation</text>
<g transform="translate(495,1475) scale(0.09533)">
<path d="M75,185 L118,128 L150,108 L188,104 L232,150 L292,192 L322,242 L312,300 L276,332 L278,402 L246,406 L240,352 L182,352 L182,406 L156,406 L150,340 L124,290 L130,242 Z" fill="#4467b1"/>
<path d="M160,262 Q205,228 258,262 Q282,300 262,338 L262,400 L176,400 L172,338 Q140,300 160,262 Z" fill="#f6f8fc" stroke="#4467b1" stroke-width="11" stroke-linejoin="round"/>
<path d="M176,290 q14,-20 28,0 q12,-20 26,-2 q10,-14 22,2 M180,312 q35,12 70,-4" fill="none" stroke="#4467b1" stroke-width="7"/>
<path d="M105,165 L160,215 M135,140 L195,195" fill="none" stroke="#8fa5d3" stroke-width="7"/>
</g>
<rect x="521.5" y="1485.2" width="75.7" height="19.8" fill="#4467b1"/>
<text x="523.1" y="1503.5" font-size="24.78" fill="#ffffff" font-weight="bold" textLength="73.3" lengthAdjust="spacingAndGlyphs" stroke="#ffffff" stroke-width="1.9" stroke-linejoin="round">YOUNG</text>
<rect x="597.2" y="1485.2" width="140.8" height="19.8" fill="#cb4a40"/>
<text x="597.8" y="1503.5" font-size="24.78" fill="#ffffff" font-weight="bold" textLength="138.8" lengthAdjust="spacingAndGlyphs" stroke="#ffffff" stroke-width="1.9" stroke-linejoin="round">INVINCIBLES</text>
<polygon points="735.0,1486.0 755.2,1495.6 735.0,1505.2" fill="#cb4a40"/>
<line x1="524.5" y1="1510.6" x2="653.2" y2="1510.6" stroke="#8a8f96" stroke-width="0.9"/>
<text x="657.0" y="1512.6" font-size="5.6" fill="#222222" font-weight="bold" textLength="80.8" lengthAdjust="spacingAndGlyphs" font-family="'Liberation Mono', monospace">TOGETHER, INVINCIBLE.</text>
<rect x="770.6" y="1473.0" width="412.6" height="54.2" fill="none" stroke="#2d62b0" stroke-width="3.5"/>
<text x="787.4" y="1493.0" font-size="18.55" fill="#33479f" textLength="378.5" lengthAdjust="spacingAndGlyphs" stroke="#33479f" stroke-width="0.8" stroke-linejoin="round">Find out more about your health care options at:</text>
<text x="854.6" y="1513.5" font-size="20.29" fill="#a53a40" font-weight="bold" font-style="italic" textLength="242.8" lengthAdjust="spacingAndGlyphs">health.younginvincibles.org</text>
</svg>

</body>
</html>
